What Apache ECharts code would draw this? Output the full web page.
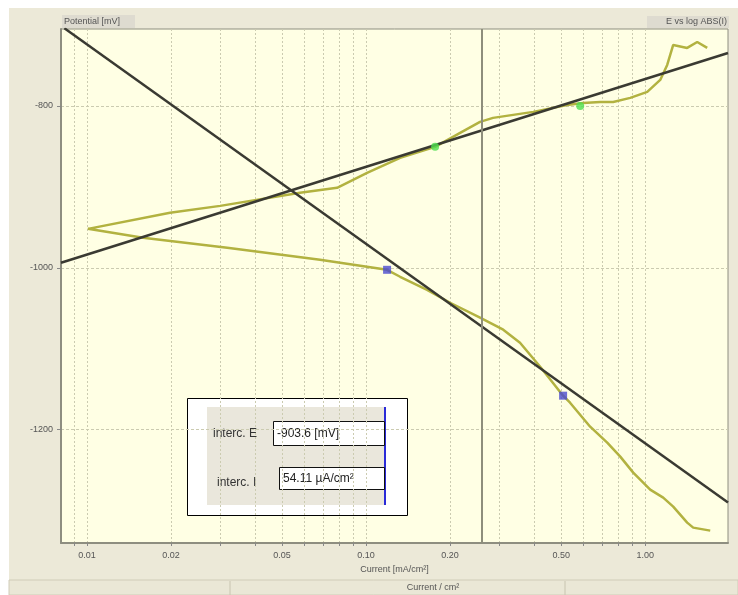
<!DOCTYPE html>
<html><head><meta charset="utf-8">
<script src="https://cdn.jsdelivr.net/npm/echarts@6/dist/echarts.min.js"></script>
<style>html,body{margin:0;padding:0;background:#fff}#c{width:738px;height:595px}</style>
</head><body><div id="c"></div>
<script>
// ---- data ----
const curveX = [1.710,1.486,1.414,1.260,1.160,1.042,0.906,0.814,0.731,0.635,0.538,0.508,0.4205,0.356,0.310,0.256,0.200,0.1654,0.1324,0.1189,0.0684,0.0318,0.01588,0.01008,0.01984,0.0300,0.0580,0.0787,0.1008,0.1324,0.1767,0.2172,0.256,0.285,0.397,0.525,0.599,0.690,0.768,0.884,1.017,1.132,1.199,1.260,1.414,1.536,1.668];
const curveY = [-1324.7,-1321.0,-1314.8,-1295.1,-1284.0,-1274.1,-1253.1,-1233.3,-1216.1,-1196.3,-1166.7,-1158.0,-1122.2,-1092.6,-1076.5,-1061.7,-1043.2,-1027.2,-1011.1,-1002.5,-990.1,-975.3,-963.0,-951.9,-932.1,-923.5,-907.4,-901.2,-882.7,-864.2,-850.6,-833.3,-819.8,-814.8,-807.4,-798.8,-796.3,-795.1,-795.1,-790.1,-782.7,-767.9,-749.4,-724.7,-728.4,-721.0,-728.4];
const cathFitX = [0.0083, 1.98];
const cathFitY = [-704, -1290];
const anodFitX = [0.00807, 1.98];
const anodFitY = [-993.8, -734.6];
const blueX = [0.1189, 0.508];
const blueY = [-1002.5, -1158.0];
const greenX = [0.1767, 0.585];
const greenY = [-850.6, -800.0];
const cursorX = 0.26;
const xLabelVals = [0.01,0.02,0.05,0.1,0.2,0.5,1];
const xTickVals = [0.009,0.01,0.02,0.03,0.04,0.05,0.06,0.07,0.08,0.09,0.1,0.2,0.3,0.4,0.5,0.6,0.7,0.8,0.9,1];
const yLabelVals = [-800,-1000,-1200];
const intercE = '-903.6 [mV]';
const intercI = '54.11 µA/cm²';

const zip = (a,b)=>a.map((v,i)=>[v,b[i]]);
const chart = echarts.init(document.getElementById('c'));
const gridColor = '#cbcbb0';
chart.setOption({
  animation:false,
  backgroundColor:'#ffffff',
  graphic:[
    {type:'rect',shape:{x:9,y:8,width:729,height:587},style:{fill:'#ECE9D8'},z:-10,silent:true},
    {type:'rect',shape:{x:9,y:580,width:729,height:15},style:{fill:'#EAE7D6',stroke:'#d0ccb8',lineWidth:1},z:-9},
    {type:'line',shape:{x1:230,y1:581,x2:230,y2:595},style:{stroke:'#c8c4b0',lineWidth:1}},
    {type:'line',shape:{x1:565,y1:581,x2:565,y2:595},style:{stroke:'#c8c4b0',lineWidth:1}},
    {type:'text',x:433,y:588,style:{text:'Current / cm²',fill:'#555',font:'9px Arial',align:'center',verticalAlign:'middle'}},
    {type:'rect',shape:{x:62,y:15,width:73,height:13},style:{fill:'#dedbd0'}},
    {type:'text',x:64,y:21.5,style:{text:'Potential [mV]',fill:'#555',font:'9px Arial',verticalAlign:'middle'}},
    {type:'rect',shape:{x:647,y:16,width:82,height:12},style:{fill:'#dedbd0'}},
    {type:'text',x:727,y:22,style:{text:'E vs log ABS(I)',fill:'#555',font:'9px Arial',align:'right',verticalAlign:'middle'}},
    {type:'group',z:100,children:[
      {type:'rect',shape:{x:187.5,y:398.5,width:220,height:117},style:{fill:'#ffffff',stroke:'#000',lineWidth:1}},
      {type:'rect',shape:{x:207,y:407,width:178,height:98},style:{fill:'#EAE7DC'}},
      {type:'line',shape:{x1:385,y1:407,x2:385,y2:505},style:{stroke:'#2a2ad8',lineWidth:2}},
      {type:'text',x:213,y:434,style:{text:'interc. E',fill:'#333',font:'12px Arial',verticalAlign:'middle'}},
      {type:'rect',shape:{x:273.5,y:421.5,width:111,height:24},style:{fill:'#fff',stroke:'#111',lineWidth:1}},
      {type:'text',x:277,y:434,style:{text:intercE,fill:'#222',font:'12px Arial',verticalAlign:'middle'}},
      {type:'text',x:217,y:483,style:{text:'interc. I',fill:'#333',font:'12px Arial',verticalAlign:'middle'}},
      {type:'rect',shape:{x:279.5,y:467.5,width:105,height:22},style:{fill:'#fff',stroke:'#111',lineWidth:1}},
      {type:'text',x:283,y:479,style:{text:intercI,fill:'#222',font:'12px Arial',verticalAlign:'middle'}}
    ]}
  ],
  grid:{left:61,top:29,right:10,bottom:52,show:true,backgroundColor:'#FFFFE4',borderColor:'#8e8e80',borderWidth:1},
  xAxis:{type:'log',logBase:10,min:0.00807,max:1.98,
    name:'Current [mA/cm²]',nameLocation:'middle',nameGap:22,
    nameTextStyle:{color:'#555',fontSize:9,fontFamily:'Arial'},
    axisLine:{show:true,onZero:false,lineStyle:{color:'#8e8e80',width:2}},
    axisTick:{show:true,length:3,customValues:xTickVals,lineStyle:{color:'#888'}},
    axisLabel:{customValues:xLabelVals,color:'#555',fontSize:9,fontFamily:'Arial',margin:8,formatter:v=>Number(v).toFixed(2)},
    splitLine:{show:true,lineStyle:{color:gridColor,type:[2,2],width:1}},
    minorSplitLine:{show:false}
  },
  yAxis:{type:'value',min:-1340,max:-705,
    axisLine:{show:true,onZero:false,lineStyle:{color:'#8e8e80',width:2}},
    axisTick:{show:true,length:4,customValues:yLabelVals,lineStyle:{color:'#888'}},
    axisLabel:{customValues:yLabelVals,color:'#555',fontSize:9,fontFamily:'Arial',margin:8,formatter:v=>String(v)},
    splitLine:{show:true,lineStyle:{color:gridColor,type:[3,2],width:1}}
  },
  series:[
    {type:'line',data:zip(curveX,curveY),showSymbol:false,lineStyle:{color:'#b2b240',width:2.5},z:3,
      markLine:{silent:true,symbol:'none',label:{show:false},lineStyle:{color:'#8e8e7c',width:2,type:'solid'},data:[{xAxis:cursorX}]}},
    {type:'line',data:zip(cathFitX,cathFitY),showSymbol:false,lineStyle:{color:'#3a3a32',width:2.5},z:4},
    {type:'line',data:zip(anodFitX,anodFitY),showSymbol:false,lineStyle:{color:'#3a3a32',width:2.5},z:4},
    {type:'scatter',data:zip(blueX,blueY),symbol:'rect',symbolSize:8,itemStyle:{color:'#4a4ad0'},z:5},
    {type:'scatter',data:zip(greenX,greenY),symbol:'circle',symbolSize:8,itemStyle:{color:'#50e050',opacity:0.8},z:5}
  ]
});
</script></body></html>
